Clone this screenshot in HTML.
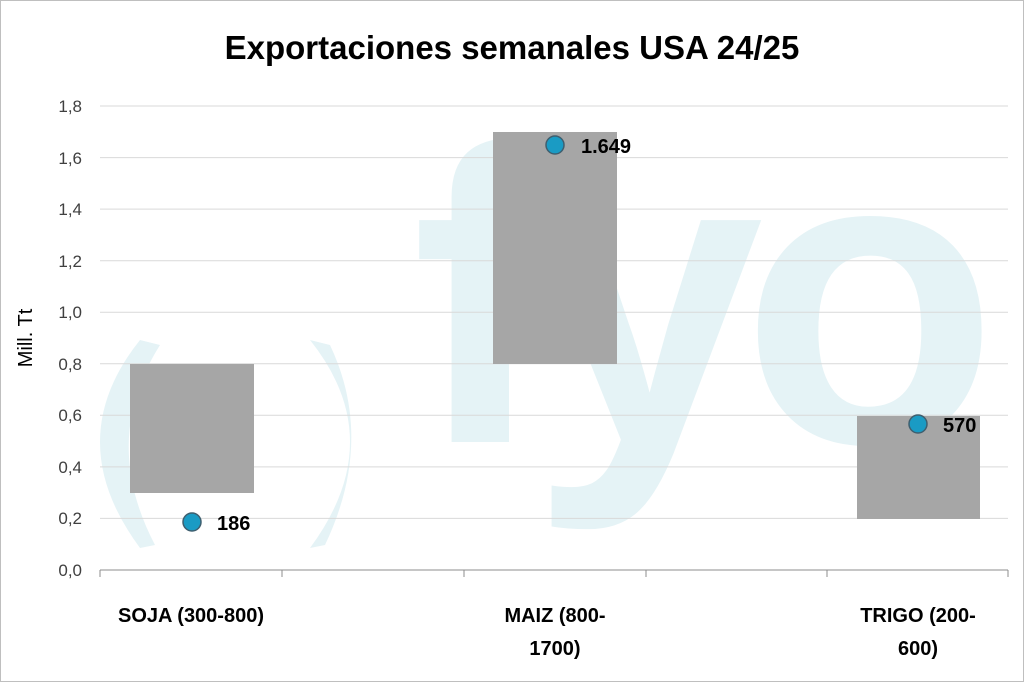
<!DOCTYPE html>
<html><head><meta charset="utf-8"><style>
html,body{margin:0;padding:0;background:#fff}
svg{display:block;font-family:"Liberation Sans",Arial,sans-serif}
</style></head><body>
<svg width="1024" height="682" viewBox="0 0 1024 682">
<rect x="0.5" y="0.5" width="1023" height="681" fill="#fff" stroke="#bfbfbf"/>
<!-- watermark -->
<g fill="#e5f3f6">
<text x="412" y="442" font-size="420" font-weight="bold" letter-spacing="-22" font-family="Liberation Sans, sans-serif">fyo</text>
<path d="M140 340 Q60 440 140 548 L155 545 Q100 440 160 345 Z"/>
<path d="M310 340 Q390 440 310 548 L325 545 Q375 440 330 345 Z"/>
</g>
<!-- grid -->
<g stroke="#d9d9d9" stroke-width="1">
<line x1="100" x2="1008" y1="106" y2="106"/>
<line x1="100" x2="1008" y1="157.6" y2="157.6"/>
<line x1="100" x2="1008" y1="209.1" y2="209.1"/>
<line x1="100" x2="1008" y1="260.7" y2="260.7"/>
<line x1="100" x2="1008" y1="312.2" y2="312.2"/>
<line x1="100" x2="1008" y1="363.8" y2="363.8"/>
<line x1="100" x2="1008" y1="415.3" y2="415.3"/>
<line x1="100" x2="1008" y1="466.9" y2="466.9"/>
<line x1="100" x2="1008" y1="518.4" y2="518.4"/>
</g>
<g stroke="#8c8c8c" stroke-width="1">
<line x1="100" x2="1008" y1="570" y2="570"/>
<line x1="100" x2="100" y1="570" y2="577"/>
<line x1="282" x2="282" y1="570" y2="577"/>
<line x1="464" x2="464" y1="570" y2="577"/>
<line x1="646" x2="646" y1="570" y2="577"/>
<line x1="827" x2="827" y1="570" y2="577"/>
<line x1="1008" x2="1008" y1="570" y2="577"/>
</g>
<!-- bars -->
<g fill="#a6a6a6">
<rect x="130" y="364" width="124" height="129"/>
<rect x="493" y="132" width="124" height="232"/>
<rect x="857" y="416" width="123" height="103"/>
</g>
<!-- dots -->
<g fill="#1a9bc4" stroke="#3f5f6f" stroke-width="1.5">
<circle cx="192" cy="522" r="9"/>
<circle cx="555" cy="145" r="9"/>
<circle cx="918" cy="424" r="9"/>
</g>
<g font-size="20" font-weight="bold" fill="#000">
<text x="217" y="530">186</text>
<text x="581" y="153">1.649</text>
<text x="943" y="432">570</text>
</g>
<!-- y labels -->
<g font-size="17" fill="#404040" text-anchor="end">
<text x="82" y="112">1,8</text>
<text x="82" y="164">1,6</text>
<text x="82" y="215">1,4</text>
<text x="82" y="267">1,2</text>
<text x="82" y="318">1,0</text>
<text x="82" y="370">0,8</text>
<text x="82" y="421">0,6</text>
<text x="82" y="473">0,4</text>
<text x="82" y="524">0,2</text>
<text x="82" y="576">0,0</text>
</g>
<text transform="translate(32,338) rotate(-90)" font-size="20" fill="#000" text-anchor="middle">Mill. Tt</text>
<g font-size="20" font-weight="bold" fill="#000" text-anchor="middle">
<text x="191" y="622">SOJA (300-800)</text>
<text x="555" y="622">MAIZ (800-</text>
<text x="555" y="655">1700)</text>
<text x="918" y="622">TRIGO (200-</text>
<text x="918" y="655">600)</text>
</g>
<text x="512" y="59" font-size="33" font-weight="bold" fill="#000" text-anchor="middle">Exportaciones semanales USA 24/25</text>
</svg>
</body></html>
